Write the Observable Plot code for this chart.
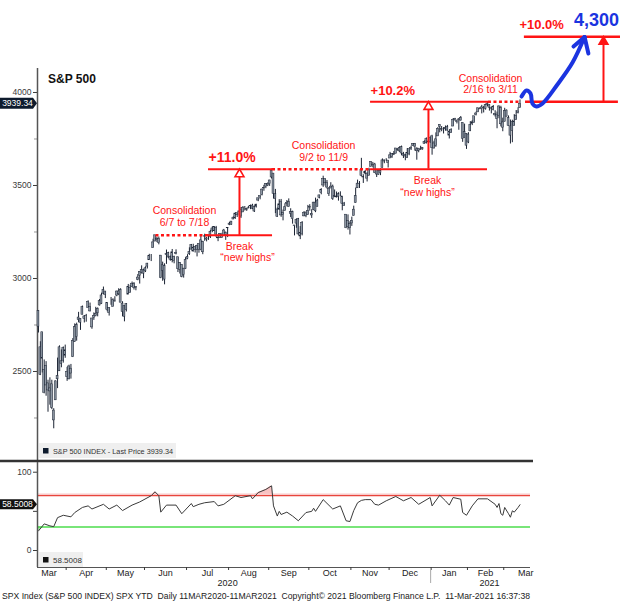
<!DOCTYPE html>
<html><head><meta charset="utf-8">
<script src="https://cdn.jsdelivr.net/npm/d3@7"></script>
<script src="https://cdn.jsdelivr.net/npm/@observablehq/plot@0.6"></script>
<style>
body{margin:0;background:#fff;}
#wrap{position:relative;width:643px;height:602px;overflow:hidden;background:#fff;}
#wrap svg{position:absolute;left:0;overflow:visible;}
</style></head><body><div id="wrap"></div>
<script>
// ---- Daily S&P 500 OHLC, 11 Mar 2020 – 11 Mar 2021 (one row per month) ----
const opens = [
[2825,2630,2569,2509,2425,2436,2393,2431,2290,2345,2458,2501,2555,2558,2614],
[2498,2458,2515,2578,2738,2685,2776,2782,2805,2796,2799,2842,2846,2785,2787,2810,2813,2855,2909,2918,2930],
[2869,2815,2868,2883,2879,2908,2915,2939,2865,2794,2830,2913,2949,2953,2970,2949,3005,3015,3046,3026],
[3038,3064,3098,3112,3163,3199,3213,3213,3123,3071,2994,3131,3137,3101,3141,3095,3138,3114,3047,3074,3018,3050],
[3105,3143,3155,3166,3153,3176,3153,3205,3141,3225,3209,3224,3224,3269,3254,3271,3219,3219,3235,3227,3232,3270],
[3288,3289,3317,3323,3340,3357,3370,3355,3373,3368,3380,3388,3392,3360,3386,3419,3435,3449,3486,3494,3509],
[3507,3543,3564,3453,3371,3370,3413,3352,3363,3407,3411,3347,3357,3285,3295,3320,3226,3237,3334,3350,3341],
[3385,3339,3368,3408,3385,3434,3459,3500,3535,3515,3453,3494,3494,3439,3439,3439,3465,3441,3403,3343,3277,3293],
[3296,3337,3406,3485,3508,3583,3543,3564,3563,3552,3600,3611,3613,3559,3580,3567,3594,3635,3638,3634],
[3645,3653,3669,3671,3694,3683,3706,3660,3656,3675,3667,3696,3714,3722,3684,3698,3693,3694,3723,3750,3736,3733],
[3764,3699,3712,3764,3815,3803,3801,3802,3814,3789,3781,3817,3858,3845,3852,3863,3836,3756,3778],
[3731,3791,3840,3836,3878,3893,3910,3920,3916,3912,3940,3918,3915,3921,3885,3857,3873,3916,3839],
[3842,3903,3863,3818,3793,3844,3851,3891,3916]].flat();
const highs = [
[2825,2660,2711,2562,2553,2453,2466,2453,2300,2449,2572,2638,2616,2632,2642],
[2522,2534,2538,2677,2756,2760,2818,2782,2852,2801,2807,2880,2868,2785,2815,2845,2842,2887,2921,2954,2930],
[2869,2844,2898,2891,2902,2932,2945,2945,2875,2852,2865,2968,2964,2981,2978,2956,3021,3036,3068,3050],
[3063,3081,3130,3129,3211,3233,3222,3223,3123,3088,3079,3153,3141,3121,3156,3120,3154,3115,3086,3074,3054,3112],
[3128,3165,3183,3184,3172,3179,3186,3235,3200,3238,3221,3233,3259,3278,3279,3280,3228,3242,3243,3264,3250,3272],
[3302,3306,3331,3351,3352,3364,3382,3387,3387,3378,3388,3395,3399,3390,3399,3432,3444,3481,3501,3510,3514],
[3528,3588,3564,3479,3379,3424,3425,3368,3402,3419,3428,3375,3362,3285,3320,3323,3279,3306,3360,3358,3393],
[3397,3370,3409,3432,3426,3447,3483,3550,3535,3527,3489,3515,3502,3476,3465,3461,3466,3441,3409,3343,3342,3305],
[3330,3389,3486,3529,3521,3646,3558,3581,3569,3593,3628,3624,3619,3585,3581,3590,3643,3636,3644,3634],
[3678,3670,3683,3699,3698,3708,3712,3678,3665,3698,3695,3711,3725,3726,3703,3698,3711,3703,3740,3756,3744,3760],
[3770,3738,3783,3811,3826,3817,3811,3820,3823,3796,3805,3859,3861,3852,3860,3871,3836,3830,3778],
[3784,3843,3848,3872,3894,3916,3919,3931,3925,3937,3950,3933,3921,3930,3902,3895,3928,3926,3862],
[3915,3906,3874,3852,3851,3881,3903,3918,3960]].flat();
const lows = [
[2707,2478,2492,2380,2367,2281,2319,2295,2192,2345,2408,2500,2520,2545,2571],
[2447,2455,2459,2575,2657,2663,2762,2721,2805,2761,2765,2842,2820,2727,2775,2794,2794,2852,2860,2912,2892],
[2821,2798,2856,2847,2872,2902,2908,2870,2794,2767,2820,2913,2922,2953,2938,2934,2988,2970,3024,2999],
[3032,3051,3098,3091,3163,3197,3193,3181,2999,2985,2966,3076,3108,3093,3084,3079,3127,3032,3024,3004,3002,3048],
[3101,3124,3155,3142,3137,3116,3136,3149,3128,3200,3197,3205,3215,3246,3252,3220,3198,3215,3216,3227,3205,3220],
[3284,3287,3317,3318,3328,3336,3323,3355,3363,3361,3374,3370,3370,3355,3379,3413,3423,3444,3469,3483,3494],
[3495,3535,3427,3349,3329,3367,3329,3310,3363,3385,3384,3328,3292,3229,3270,3232,3209,3229,3332,3327,3340],
[3362,3323,3367,3354,3385,3428,3450,3490,3497,3481,3441,3483,3420,3435,3433,3416,3440,3364,3388,3268,3260,3234],
[3280,3336,3405,3485,3484,3547,3511,3558,3519,3552,3600,3595,3567,3543,3556,3553,3594,3617,3630,3594],
[3645,3645,3661,3670,3684,3678,3660,3645,3633,3645,3660,3688,3710,3685,3636,3676,3689,3690,3723,3723,3730,3726],
[3663,3696,3705,3764,3783,3789,3777,3792,3792,3750,3780,3816,3845,3831,3797,3846,3732,3756,3694],
[3725,3791,3822,3836,3874,3893,3907,3885,3890,3905,3923,3900,3885,3901,3868,3805,3859,3815,3789],
[3842,3869,3819,3723,3730,3819,3851,3885,3916]].flat();
const closes = [
[2741,2480,2711,2386,2529,2398,2409,2305,2237,2447,2476,2630,2541,2627,2585],
[2471,2527,2489,2664,2660,2750,2790,2762,2846,2783,2800,2875,2823,2737,2799,2798,2837,2878,2863,2939,2912],
[2831,2842,2868,2848,2881,2930,2930,2870,2820,2852,2863,2954,2922,2972,2949,2955,2992,3036,3029,3044],
[3055,3080,3122,3112,3194,3232,3207,3190,3002,3041,3067,3125,3113,3115,3098,3117,3131,3050,3084,3009,3053,3100],
[3116,3130,3180,3145,3169,3152,3185,3155,3197,3227,3215,3224,3251,3257,3276,3236,3216,3239,3218,3258,3246,3271],
[3295,3306,3327,3349,3351,3360,3333,3380,3373,3373,3381,3390,3375,3385,3397,3431,3443,3478,3484,3508,3500],
[3527,3580,3455,3427,3331,3399,3339,3341,3383,3401,3385,3357,3319,3281,3315,3237,3246,3298,3351,3335,3363],
[3381,3348,3408,3361,3419,3447,3477,3535,3512,3489,3483,3484,3427,3443,3436,3453,3465,3401,3391,3271,3310,3270],
[3310,3370,3443,3510,3509,3551,3545,3572,3537,3585,3627,3610,3568,3582,3558,3578,3635,3629,3638,3622],
[3662,3669,3666,3699,3692,3702,3672,3668,3663,3647,3695,3702,3722,3709,3694,3687,3690,3703,3735,3727,3732,3756],
[3701,3726,3748,3804,3825,3799,3801,3810,3795,3768,3799,3852,3853,3841,3855,3849,3751,3787,3714],
[3774,3826,3830,3872,3887,3915,3911,3910,3917,3934,3933,3932,3913,3906,3877,3881,3925,3829,3811],
[3901,3870,3820,3768,3842,3821,3875,3898,3939.34]].flat();

// ---- 14-day RSI ----
const rsiDates = ["2020-03-11","2020-03-16","2020-03-19","2020-03-23","2020-03-25","2020-03-30","2020-04-03","2020-04-07","2020-04-14","2020-04-17","2020-04-21","2020-04-29","2020-05-04","2020-05-08","2020-05-13","2020-05-20","2020-05-27","2020-06-04","2020-06-08","2020-06-10","2020-06-11","2020-06-16","2020-06-23","2020-06-26","2020-07-06","2020-07-07","2020-07-10","2020-07-15","2020-07-22","2020-07-24","2020-07-29","2020-08-06","2020-08-11","2020-08-18","2020-08-19","2020-08-24","2020-08-28","2020-09-02","2020-09-03","2020-09-08","2020-09-09","2020-09-10","2020-09-15","2020-09-18","2020-09-23","2020-09-29","2020-10-02","2020-10-05","2020-10-06","2020-10-12","2020-10-19","2020-10-23","2020-10-28","2020-10-30","2020-11-03","2020-11-05","2020-11-09","2020-11-11","2020-11-16","2020-11-18","2020-11-20","2020-11-27","2020-12-04","2020-12-10","2020-12-16","2020-12-22","2020-12-31","2021-01-04","2021-01-08","2021-01-13","2021-01-15","2021-01-20","2021-01-26","2021-01-27","2021-01-29","2021-02-03","2021-02-08","2021-02-16","2021-02-22","2021-02-23","2021-02-24","2021-02-25","2021-02-26","2021-03-01","2021-03-03","2021-03-04","2021-03-05","2021-03-08","2021-03-10","2021-03-11"];
const rsiValues = [25,34,31.5,30.5,42,45,43,48.5,55,57,53,59,53,58,51,58,62,70,75,70,49,58,58,47,60,56,59,61,62.5,57,59,70,67.7,70,66,74,78,82.6,57,44,50,46,49,44,38,48.5,50,54,50,65,53,57,38,37,51,61,64,65,65,59,58,63.5,69,63.5,67.7,59,67.7,57,70.6,63.5,58,67.7,65.5,48.5,45,57,66,66,59,55,60,47,45,55,47,42.5,50.7,49,55,58.5];
const rsiLast = 58.5008;

// ---- axis labels ----
const priceTicks = [2500,3000,3500,4000];
const priceMinor = [2250,2750,3250,3750];
const rsiTicks = [0,100];
const rsiTickMarks = [0,50,100];
const monthLabels = ["Mar","Apr","May","Jun","Jul","Aug","Sep","Oct","Nov","Dec","Jan","Feb","Mar"];
const yearLabels = ["2020","2021"];
const holidays = ["2020-04-10","2020-05-25","2020-07-03","2020-09-07","2020-11-26","2020-12-25","2021-01-01","2021-01-18","2021-02-15"];

// ---- annotations (x in trading-day units, y in index points) ----
const dottedX1 = [61.5, 122.5, 235.5], dottedX2 = [89, 173.8, 252.3], dottedY = [3232, 3588, 3950];
const solidX1 = [89, 89, 173.8, 173.8], solidX2 = [122.5, 122.5, 235, 235.5], solidY = [3232, 3588, 3588, 3950];
const targetX1 = [254.9, 254.3], targetX2 = [303.5, 304.6], targetY = [3950, 4300];
const arrowX = [105.2, 204.1, 295.7], arrowFrom = [3232, 3588, 3950], arrowTo = [3588, 3950, 4300];
const pctText = ["+11.0%","+10.2%","+10.0%"], pctX = [89, 173.8, 251.7], pctY = [3653, 4008, 4366];
const noteText = ["Consolidation","6/7 to 7/18","Consolidation","9/2 to 11/9","Consolidation","2/16 to 3/11","Break","\u201cnew highs\u201d","Break","\u201cnew highs\u201d"];
const noteX = [76.4, 76.4, 149.2, 149.2, 236.6, 236.6, 105.2, 109.4, 203.6, 203.6];
const noteY = [3366, 3301, 3715, 3648, 4075, 4013, 3172, 3113, 3524, 3460];
const targetLabel = "4,300", targetLabelX = 292, targetLabelY = 4387;
const blueX = [252.8, 255.4, 257.5, 258.5, 260.6, 263.8, 271.6, 279.5, 285.8];
const blueY = [3978, 4011, 3995, 3941, 3925, 3941, 4043, 4161, 4298];
const blueHeadX2 = [280.0, 287.8], blueHeadY2 = [4247, 4210];

// ---- trading calendar ----
function tradingDays(a, b) {
  const out = [];
  for (let d = new Date(a + "T00:00:00Z"); d <= new Date(b + "T00:00:00Z"); d.setUTCDate(d.getUTCDate() + 1)) {
    const wd = d.getUTCDay(), s = d.toISOString().slice(0, 10);
    if (wd !== 0 && wd !== 6 && !holidays.includes(s)) out.push(s);
  }
  return out;
}
const cal = tradingDays("2020-03-02", "2021-03-31");
const off = cal.indexOf("2020-03-11");
const idxOf = s => cal.indexOf(s) - off;
const n = Math.min(opens.length, highs.length, lows.length, closes.length);
const bars = d3.range(n).map(i => ({i, o: opens[i], h: highs[i], l: lows[i], c: closes[i]}));
const rsi = rsiDates.map((s, k) => ({i: idxOf(s), v: rsiValues[k]}));

const months = Array.from(d3.group(cal, s => s.slice(0, 7)), ([k, v]) => ({k, first: cal.indexOf(v[0]) - off, last: cal.indexOf(v[v.length - 1]) - off}));
const boundaries = months.slice(1).map(m => m.first - 0.5);
const monthInfo = months.map((m, j) => ({mid: Math.max((m.first + m.last) / 2, 5.5), label: monthLabels[j]}));
const yearInfo = yearLabels.map(y => {
  const ms = months.filter(m => m.k.startsWith(y));
  return {mid: (ms[0].first + ms[ms.length - 1].last) / 2, label: y};
});
const janBoundary = months.find(m => m.k === "2021-01").first - 0.5;

const red = "#ff1414", blue = "#1b34e0", navy = "#0e1b2d";
const font = "'Liberation Sans', Arial, sans-serif";
const xDomain = [-0.5, 257.5];
const dotted = dottedY.map((y, k) => ({x1: dottedX1[k], x2: dottedX2[k], y}));
const solid = solidY.map((y, k) => ({x1: solidX1[k], x2: solidX2[k], y}));
const target = targetY.map((y, k) => ({x1: targetX1[k], x2: targetX2[k], y}));
const arrows = arrowX.map((x, k) => ({x, y1: arrowFrom[k], y2: arrowTo[k], filled: k === 2}));
const pcts = pctText.map((t, k) => ({t, x: pctX[k], y: pctY[k]}));
const notes = noteText.map((t, k) => ({t, x: noteX[k], y: noteY[k]}));
const blueLine = blueX.map((x, k) => ({x, y: blueY[k]}));
const tip = blueLine[blueLine.length - 1];
const blueHead = blueHeadX2.map((x, k) => ({x1: tip.x, y1: tip.y, x2: x, y2: blueHeadY2[k]}));

const chart1 = Plot.plot({
  width: 643, height: 462,
  marginTop: 68, marginBottom: 2, marginLeft: 37, marginRight: 113,
  x: {domain: xDomain, axis: null},
  y: {domain: [2021.5, 4129], axis: null},
  style: {fontFamily: font, fontSize: "8.5px", color: "#3a3a3a", background: "transparent"},
  marks: [
    Plot.axisY({ticks: priceMinor, tickSize: 3, tickFormat: () => "", label: null, color: "#999"}),
    Plot.axisY({ticks: priceTicks, tickSize: 4, tickPadding: 2, tickFormat: d => String(d), label: null}),
    Plot.ruleX([-0.5], {stroke: "#555", strokeWidth: 1.5}),
    Plot.ruleX(bars, {x: "i", y1: "l", y2: "h", stroke: "#1a2232", strokeWidth: 1}),
    Plot.rect(bars, {x1: d => d.i - 0.5, x2: d => d.i + 0.5, y1: "o", y2: "c", fill: "#8e98a4", stroke: "#1a2232", strokeWidth: 0.5}),
    Plot.ruleY(dotted, {y: "y", x1: "x1", x2: "x2", stroke: red, strokeWidth: 2.5, strokeDasharray: "3,2.5"}),
    Plot.ruleY(solid, {y: "y", x1: "x1", x2: "x2", stroke: red, strokeWidth: 2}),
    Plot.ruleY(target, {y: "y", x1: "x1", x2: "x2", stroke: red, strokeWidth: 2.5}),
    Plot.ruleX(arrows, {x: "x", y1: "y1", y2: d => d.y2 - 27, stroke: red, strokeWidth: 2}),
    Plot.dot(arrows, {x: "x", y: d => d.y2 - 27, symbol: "triangle", r: 3.3, fill: d => d.filled ? red : "white", stroke: red, strokeWidth: 1.6}),
    Plot.text(pcts, {x: "x", y: "y", text: "t", textAnchor: "start", fill: red, fontWeight: "bold", fontSize: d => d.t === "+11.0%" ? 14 : 13}),
    Plot.text(notes, {x: "x", y: "y", text: "t", fill: red, fontSize: 10.5}),
    Plot.text([targetLabel], {x: targetLabelX, y: targetLabelY, text: d => d, fill: blue, fontWeight: "bold", fontSize: 18}),
    Plot.line(blueLine, {x: "x", y: "y", curve: "catmull-rom", stroke: blue, strokeWidth: 4, strokeLinecap: "round", strokeLinejoin: "round"}),
    Plot.link(blueHead, {x1: "x1", y1: "y1", x2: "x2", y2: "y2", stroke: blue, strokeWidth: 4, strokeLinecap: "round"})
  ]
});

const chart2 = Plot.plot({
  width: 643, height: 140,
  marginTop: 0, marginBottom: 35, marginLeft: 37, marginRight: 113,
  x: {domain: xDomain, axis: null},
  y: {domain: [-21.7, 112.4], axis: null},
  style: {fontFamily: font, fontSize: "8.5px", color: "#3a3a3a", background: "transparent"},
  marks: [
    Plot.areaY(rsi, {x: "i", y1: () => 70, y2: d => Math.max(d.v, 70), fill: "#f8c2c2"}),
    Plot.areaY(rsi, {x: "i", y1: d => Math.min(d.v, 30), y2: () => 30, fill: "#a8eea8"}),
    Plot.ruleY([70], {stroke: "#f9caca", strokeWidth: 1.5, dy: -1.5}),
    Plot.ruleY([70], {stroke: "#e8453c", strokeWidth: 1.2}),
    Plot.ruleY([30], {stroke: "#4cdc4c", strokeWidth: 1.6}),
    Plot.line(rsi, {x: "i", y: "v", stroke: "#3a3a3a", strokeWidth: 1}),
    Plot.axisY({ticks: rsiTickMarks, tickSize: 4, tickFormat: () => "", label: null}),
    Plot.axisY({ticks: rsiTicks, tickSize: 0, tickPadding: 6, tickFormat: d => String(d), label: null}),
    Plot.ruleX([-0.5], {stroke: "#555", strokeWidth: 1.5}),
    Plot.ruleY([-21.7], {stroke: "#555", strokeWidth: 1.2}),
    Plot.axisX({ticks: boundaries, tickSize: 3, tickFormat: () => "", label: null, anchor: "bottom"}),
    Plot.text(monthInfo, {x: "mid", text: "label", frameAnchor: "bottom", dy: 8, fontSize: 9, fill: "#222"}),
    Plot.text(yearInfo, {x: "mid", text: "label", frameAnchor: "bottom", dy: 18, fontSize: 9, fill: "#222"})
  ]
});

const wrap = document.getElementById("wrap");
chart1.style.top = "0px";
chart2.style.top = "462px";
wrap.appendChild(chart1);
wrap.appendChild(chart2);

// ---- decorations positioned through the plots' scales ----
const sx = chart1.scale("x"), sy = chart1.scale("y"), ry = chart2.scale("y");
const g1 = d3.select(chart1).append("g").attr("font-family", font).attr("text-anchor", "start");
g1.append("text").attr("x", 48).attr("y", 83).attr("font-size", 12).attr("font-weight", "bold").attr("fill", "#111").text("S&P 500");
const py = sy.apply(closes[n - 1]);
g1.append("path").attr("d", `M0,${py - 5.5}H33L37,${py}L33,${py + 5.5}H0Z`).attr("fill", navy);
g1.append("text").attr("x", 17.5).attr("y", py + 3).attr("text-anchor", "middle").attr("font-size", 8.5).attr("fill", "#fff").text(d3.format(".2f")(closes[n - 1]));
g1.append("rect").attr("x", 39).attr("y", 443).attr("width", 137).attr("height", 15).attr("fill", "#efefef");
g1.append("rect").attr("x", 43).attr("y", 448).attr("width", 5.5).attr("height", 5.5).attr("fill", navy);
g1.append("text").attr("x", 53).attr("y", 454).attr("font-size", 7.5).attr("fill", "#333").attr("textLength", 120).attr("lengthAdjust", "spacingAndGlyphs").text("S&P 500 INDEX - Last Price " + d3.format(".2f")(closes[n - 1]));
g1.append("line").attr("x1", 0).attr("x2", 533).attr("y1", 461).attr("y2", 461).attr("stroke", "#333").attr("stroke-width", 2.5);

const g2 = d3.select(chart2).append("g").attr("font-family", font).attr("text-anchor", "start");
const ty = ry.apply(rsiLast);
g2.append("path").attr("d", `M0,${ty - 5}H33L37,${ty}L33,${ty + 5}H0Z`).attr("fill", "#111");
g2.append("text").attr("x", 17.5).attr("y", ty + 3).attr("text-anchor", "middle").attr("font-size", 8.5).attr("fill", "#fff").text(String(rsiLast));
g2.append("rect").attr("x", 39).attr("y", 90).attr("width", 44).attr("height", 15).attr("fill", "#efefef");
g2.append("rect").attr("x", 43).attr("y", 95).attr("width", 5.5).attr("height", 5.5).attr("fill", "#111");
g2.append("text").attr("x", 53).attr("y", 101).attr("font-size", 8).attr("fill", "#333").text(String(rsiLast));
const jx = sx.apply(janBoundary);
g2.append("line").attr("x1", jx).attr("x2", jx).attr("y1", 108).attr("y2", 121).attr("stroke", "#aaa").attr("stroke-width", 1);
g2.append("text").attr("x", 2).attr("y", 137).attr("font-size", 9).attr("fill", "#222").attr("textLength", 528).attr("lengthAdjust", "spacingAndGlyphs")
  .text("SPX Index (S&P 500 INDEX) SPX YTD  Daily 11MAR2020-11MAR2021  Copyright\u00a9 2021 Bloomberg Finance L.P.  11-Mar-2021 16:37:38");
</script></body></html>
